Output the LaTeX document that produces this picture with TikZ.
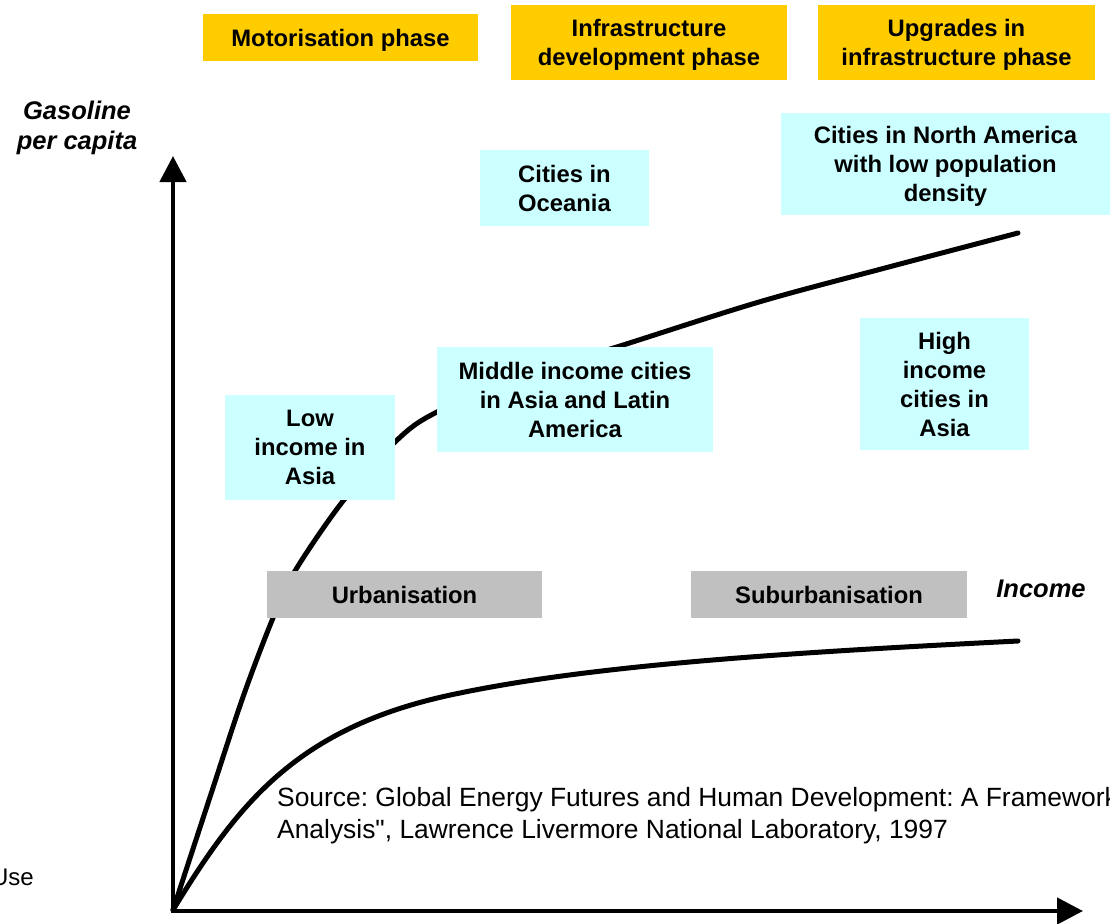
\documentclass[tikz,border=0pt]{standalone}
\usepackage{fontspec}
\setmainfont{Liberation Sans}
\newfontfamily\srcfont{Liberation Sans}
\usetikzlibrary{arrows.meta}
\definecolor{phasefill}{HTML}{FFCC00}
\definecolor{cityfill}{HTML}{CCFFFF}
\definecolor{stagefill}{HTML}{C0C0C0}
\frenchspacing
\begin{document}
\begin{tikzpicture}[x=1pt,y=-1pt,
  lbl/.style={inner sep=0pt, align=center, text depth=0pt, font=\fontsize{23.8}{29}\selectfont\bfseries},
  phasebox/.style={lbl, fill=phasefill},
  citybox/.style={lbl, fill=cityfill},
  stagebox/.style={lbl, fill=stagefill},
  axislabel/.style={inner sep=0pt, align=center, font=\fontsize{25.5}{30}\selectfont\bfseries\itshape},
  axisline/.style={line width=4.5pt, -{Triangle[length=26pt,width=26pt]}},
  curveline/.style={line width=5pt, line cap=round, line join=round}]
\useasboundingbox (0,0) rectangle (1110,923);
\clip (0,0) rectangle (1110,923);

% curves (behind the boxes)
\draw[curveline] plot[smooth, tension=0.55] coordinates {(173,910) (210,797) (243,697) (273,618) (295,571) (343,501) (395,442) (437,412) (530,374) (620,346) (759,302) (885,268) (1018,233)};
\draw[curveline] (173,910) .. controls (240,800) and (300,725) .. (460,693) .. controls (600,664) and (800,652) .. (1018,641);

% axes
\coordinate (origin) at (173,911);
\coordinate (ytop) at (173,156);
\coordinate (xend) at (1083,911);
\draw[axisline, line cap=rect] (origin) -- (ytop);
\draw[axisline, line cap=rect] (origin) -- (xend);

% phase boxes
\node[phasebox, minimum width=275pt, minimum height=47pt] (motor) at (340.5,37.5) {Motorisation phase};
\node[phasebox, minimum width=276pt, minimum height=75pt] (infra) at (649,42.5) {Infrastructure\\development phase};
\node[phasebox, minimum width=277pt, minimum height=75pt] (upgr) at (956.5,42.5) {Upgrades in\\infrastructure phase};

% city boxes
\node[citybox, minimum width=169pt, minimum height=76pt] (ocean) at (564.5,188) {Cities in\\Oceania};
\node[citybox, minimum width=329pt, minimum height=102pt] (northam) at (945.5,164) {Cities in North America\\with low population\\density};
\node[citybox, minimum width=276pt, minimum height=105pt] (middle) at (575,399.5) {Middle income cities\\in Asia and Latin\\America};
\node[citybox, minimum width=169pt, minimum height=132pt] (high) at (944.5,384) {High\\income\\cities in\\Asia};
\node[citybox, minimum width=170pt, minimum height=105pt] (low) at (310,447.5) {Low\\income in\\Asia};

% stage boxes
\node[stagebox, minimum width=275pt, minimum height=47pt] (urban) at (404.5,594.5) {Urbanisation};
\node[stagebox, minimum width=276pt, minimum height=47pt] (suburb) at (829,594.5) {Suburbanisation};

% axis labels
\node[axislabel] (ylab) at (77,128) {Gasoline\\per capita};
\node[axislabel] (xlab) at (1041,589) {Income};

% source and cut-off text
\node[inner sep=0pt, anchor=north west, align=left, font=\srcfont\fontsize{26.4}{32}\selectfont] (src) at (277,787) {Source: Global Energy Futures and Human Development: A Framework\\Analysis", Lawrence Livermore National Laboratory, 1997};
\node[inner sep=0pt, anchor=base east, font=\fontsize{24}{29}\selectfont] (use) at (34,885) {Use};
\end{tikzpicture}
\end{document}
